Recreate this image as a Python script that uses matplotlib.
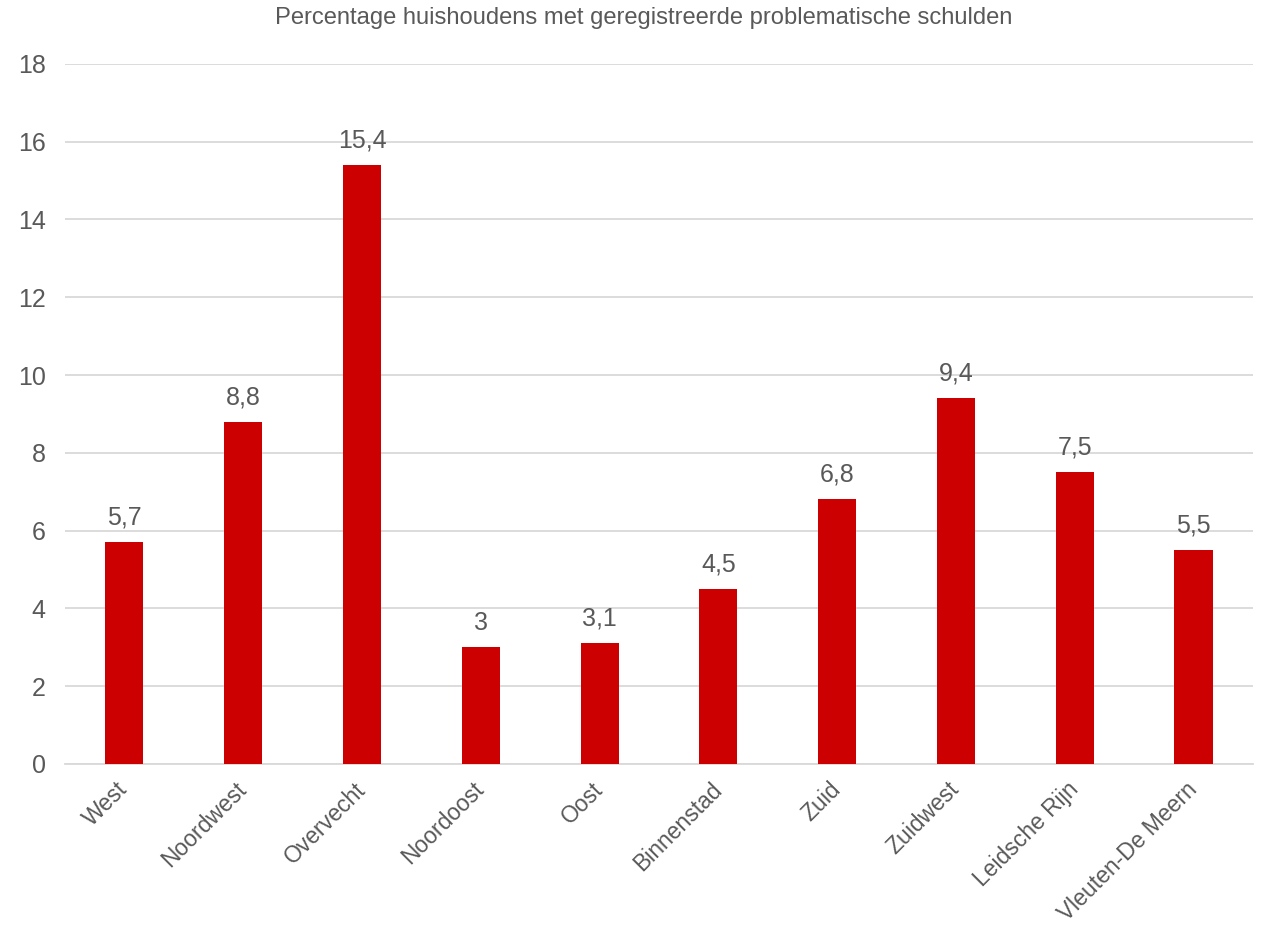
import matplotlib.pyplot as plt
import matplotlib.transforms as mtransforms

plt.rcParams["font.family"] = ["Liberation Sans", "DejaVu Sans"]

wijken = ["West", "Noordwest", "Overvecht", "Noordoost", "Oost", "Binnenstad",
          "Zuid", "Zuidwest", "Leidsche Rijn", "Vleuten-De Meern"]
percentages = [5.7, 8.8, 15.4, 3, 3.1, 4.5, 6.8, 9.4, 7.5, 5.5]
y_ticks = list(range(0, 19, 2))

TEXT = "#595959"
GRID = "#D9D9D9"
RED = "#CC0000"

fig = plt.figure(figsize=(12.63, 9.27), dpi=100)
ax = fig.add_axes([0.0515, 0.176, 0.9405, 0.755])

x = range(len(wijken))
bars = ax.bar(x, percentages, width=0.32, color=RED, zorder=3)

for b, v in zip(bars, percentages):
    label = f"{v:g}".replace(".", ",")
    ax.annotate(label, (b.get_x() + b.get_width() / 2, v),
                xytext=(0, 9), textcoords="offset points",
                ha="center", va="bottom", fontsize=18, color=TEXT)

ax.set_xlim(-0.5, len(wijken) - 0.5)
ax.set_ylim(0, 18)
ax.set_yticks(y_ticks)
ax.set_yticklabels([str(t) for t in y_ticks])
ax.yaxis.grid(True, color=GRID, lw=1.3, zorder=0)
ax.set_axisbelow(True)

ax.set_xticks(list(x))
ax.set_xticklabels(wijken, rotation=45, ha="right", va="center",
                   rotation_mode="anchor")
offset = mtransforms.ScaledTranslation(0.12, -0.02, fig.dpi_scale_trans)
for lbl in ax.get_xticklabels():
    lbl.set_transform(lbl.get_transform() + offset)

ax.tick_params(axis="y", length=0, labelsize=18, labelcolor=TEXT, pad=14)
ax.tick_params(axis="x", length=0, labelsize=16.5, labelcolor=TEXT, pad=16)

for side in ["top", "right", "left"]:
    ax.spines[side].set_visible(False)
ax.spines["bottom"].set_color(GRID)
ax.spines["bottom"].set_linewidth(1.3)

fig.text(0.5 * (272 + 1015) / 1263, 1 - 18 / 927,
         "Percentage huishoudens met geregistreerde problematische schulden",
         ha="center", va="center", fontsize=17.1, color=TEXT)

fig.savefig("out.png", dpi=100)
